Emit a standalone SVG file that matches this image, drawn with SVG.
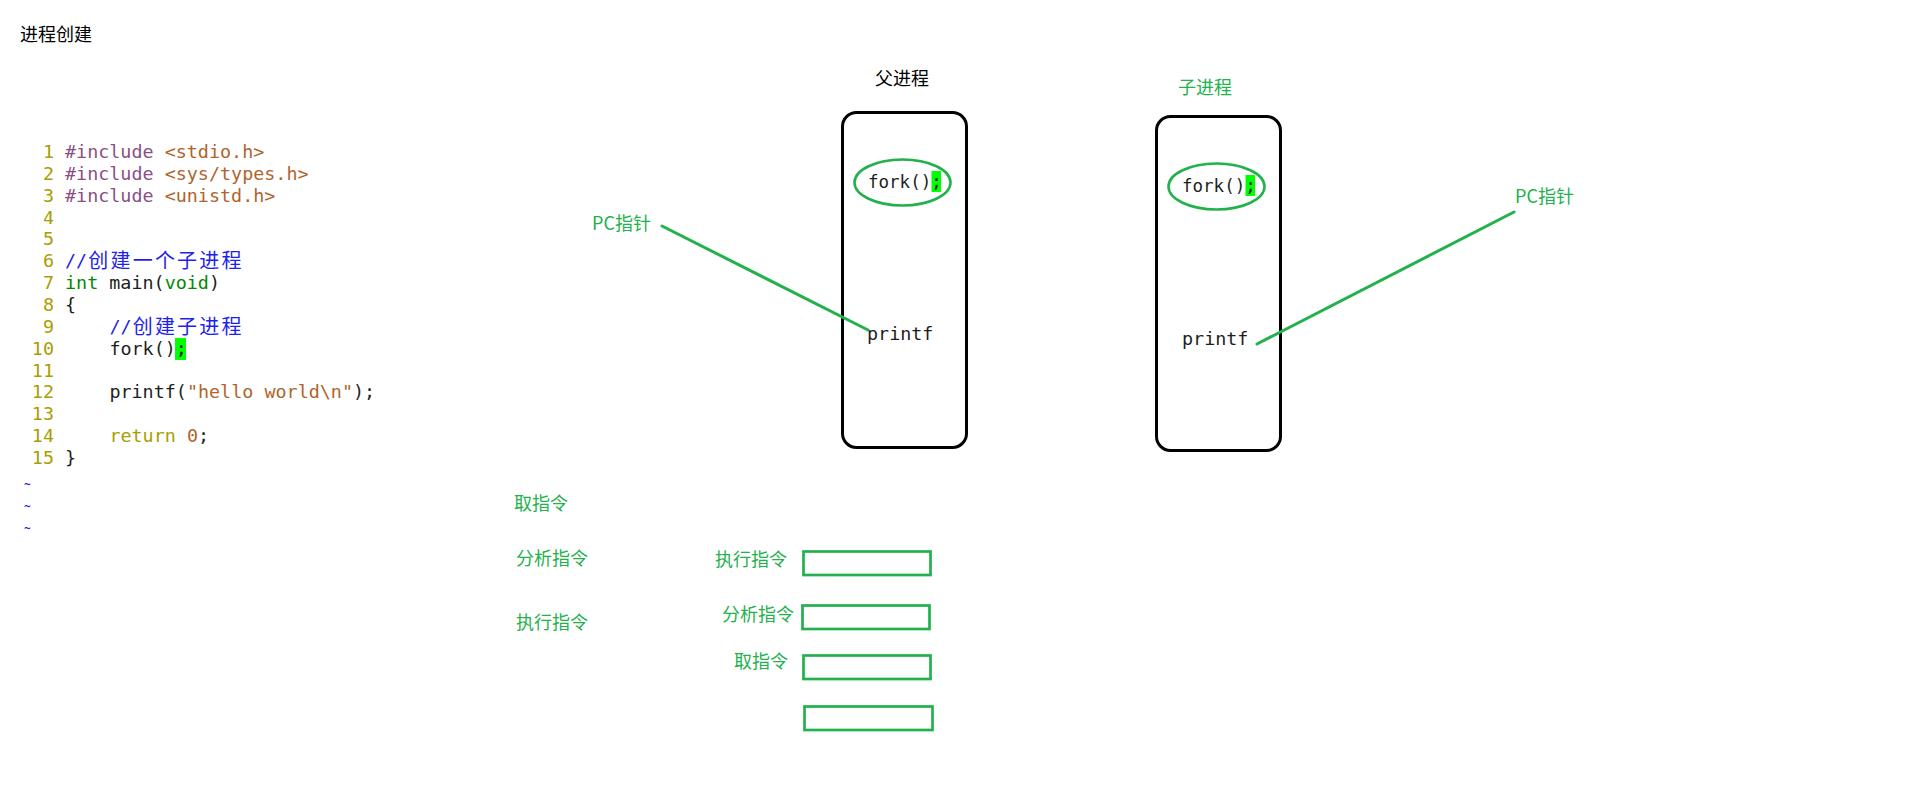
<svg xmlns="http://www.w3.org/2000/svg" width="1914" height="796" viewBox="0 0 1914 796">
<style>
.code{font-family:"DejaVu Sans Mono","Liberation Mono",monospace;font-size:18.4px;}
.ln{fill:#a6a000;text-anchor:end;}
.pp{fill:#8a4f86;}
.st{fill:#b0642c;}
.cm{fill:#1f1fee;}
.ty{fill:#008a00;}
.tx{fill:#1e1e1e;}
.kw{fill:#a6a000;}
.cjk{font-family:"Noto Sans CJK SC","Noto Sans",sans-serif;font-size:18px;}
.cjkm{font-family:"Noto Sans CJK SC",sans-serif;font-size:20px;}
.g{fill:#22b14c;}
.k{fill:#000;}
.box{fill:#fff;stroke:#000;stroke-width:3;}
.ell{fill:none;stroke:#22b14c;stroke-width:2.6;}
.gr{fill:none;stroke:#22b14c;stroke-width:2.7;}
.hl{fill:#00ff00;}
.ptr{stroke:#22b14c;stroke-width:3;stroke-linecap:round;fill:none;}
</style>
<rect width="1914" height="796" fill="#fff"/>

<g id="title"><text class="cjk k" x="20" y="41">进程创建</text></g>

<g id="code" xml:space="preserve">
<rect class="hl" x="175" y="338" width="11" height="22"/>
<text class="code ln" x="54" y="158">1</text>
<text class="code ln" x="54" y="179.85">2</text>
<text class="code ln" x="54" y="201.7">3</text>
<text class="code ln" x="54" y="223.55">4</text>
<text class="code ln" x="54" y="245.4">5</text>
<text class="code ln" x="54" y="267.25">6</text>
<text class="code ln" x="54" y="289.1">7</text>
<text class="code ln" x="54" y="310.95">8</text>
<text class="code ln" x="54" y="332.8">9</text>
<text class="code ln" x="54" y="354.65">10</text>
<text class="code ln" x="54" y="376.5">11</text>
<text class="code ln" x="54" y="398.35">12</text>
<text class="code ln" x="54" y="420.2">13</text>
<text class="code ln" x="54" y="442.05">14</text>
<text class="code ln" x="54" y="463.9">15</text>
<text class="code" x="65" y="158"><tspan class="pp">#include</tspan><tspan class="st"> &lt;stdio.h&gt;</tspan></text>
<text class="code" x="65" y="179.85"><tspan class="pp">#include</tspan><tspan class="st"> &lt;sys/types.h&gt;</tspan></text>
<text class="code" x="65" y="201.7"><tspan class="pp">#include</tspan><tspan class="st"> &lt;unistd.h&gt;</tspan></text>
<text class="code cm" x="65" y="267.25">//</text>
<text class="cjkm cm" x="88.3 110.5 132.7 154.9 177.1 199.3 221.5" y="268">创建一个子进程</text>
<text class="code" x="65" y="289.1"><tspan class="ty">int</tspan><tspan class="tx"> main(</tspan><tspan class="ty">void</tspan><tspan class="tx">)</tspan></text>
<text class="code tx" x="65" y="310.95">{</text>
<text class="code cm" x="109.4" y="332.8">//</text>
<text class="cjkm cm" x="132.7 154.9 177.1 199.3 221.5" y="333.5">创建子进程</text>
<text class="code tx" x="109.4" y="354.65">fork();</text>
<text class="code" x="109.4" y="398.35"><tspan class="tx">printf(</tspan><tspan class="st">"hello world\n"</tspan><tspan class="tx">);</tspan></text>
<text class="code" x="109.4" y="442.05"><tspan class="kw">return</tspan><tspan class="st"> 0</tspan><tspan class="tx">;</tspan></text>
<text class="code tx" x="65" y="463.9">}</text>
<text class="code cm" x="24" y="488" style="font-size:11px;font-weight:bold">~</text>
<text class="code cm" x="24" y="510" style="font-size:11px;font-weight:bold">~</text>
<text class="code cm" x="24" y="532" style="font-size:11px;font-weight:bold">~</text>
</g>

<g id="parent">
<text class="cjk k" x="875" y="85">父进程</text>
<rect class="box" x="842.5" y="112.5" width="124" height="335" rx="14"/>
<ellipse class="ell" cx="902.5" cy="182.5" rx="48" ry="23"/>
<rect class="hl" x="931.5" y="171" width="9.5" height="21"/>
<text class="code tx" x="868" y="188" style="font-size:17.5px">fork();</text>
<text class="code tx" x="867" y="340">printf</text>
</g>

<g id="child">
<text class="cjk g" x="1178" y="93.5">子进程</text>
<rect class="box" x="1156.5" y="116.5" width="124" height="334" rx="14"/>
<ellipse class="ell" cx="1216.5" cy="186.5" rx="48" ry="23"/>
<rect class="hl" x="1245.5" y="175" width="9.5" height="21"/>
<text class="code tx" x="1182" y="192" style="font-size:17.5px">fork();</text>
<text class="code tx" x="1182" y="345">printf</text>
</g>

<g id="pc-left"><text class="cjk g" x="592" y="230">PC指针</text></g>
<g id="pc-right"><text class="cjk g" x="1515" y="203">PC指针</text></g>

<g id="connectors">
<line class="ptr" x1="662" y1="226" x2="868" y2="330"/>
<line class="ptr" x1="1514" y1="212" x2="1257" y2="344"/>
</g>

<g id="stages-left">
<text class="cjk g" x="514" y="510">取指令</text>
<text class="cjk g" x="516" y="565">分析指令</text>
<text class="cjk g" x="516" y="629">执行指令</text>
</g>

<g id="stage-exec">
<text class="cjk g" x="715" y="566">执行指令</text>
<rect class="gr" x="803.5" y="551.5" width="127" height="23.5"/>
</g>
<g id="stage-analyze">
<text class="cjk g" x="722" y="621">分析指令</text>
<rect class="gr" x="802.5" y="605.5" width="127" height="23.5"/>
</g>
<g id="stage-fetch">
<text class="cjk g" x="734" y="668">取指令</text>
<rect class="gr" x="803.5" y="655.5" width="127" height="23.5"/>
</g>
<g id="stage-empty">
<rect class="gr" x="804.5" y="706.5" width="128" height="23.5"/>
</g>
</svg>
